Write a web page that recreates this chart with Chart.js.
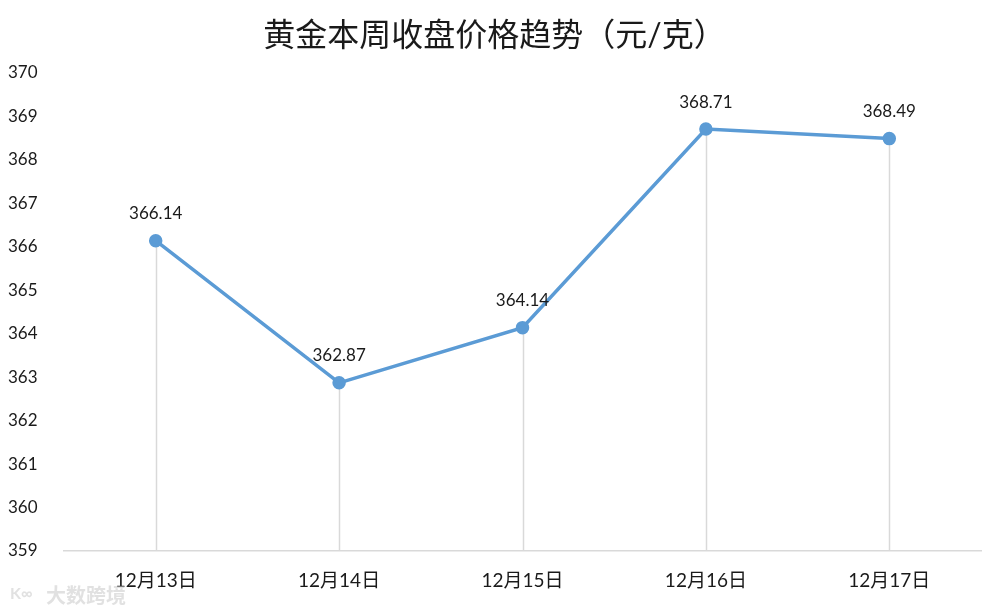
<!DOCTYPE html>
<html>
<head>
<meta charset="utf-8">
<script src="https://cdn.jsdelivr.net/npm/chart.js@4"></script>
<style>
  html, body { margin: 0; padding: 0; background: #fff; }
  #wrap { width: 1005px; height: 613px; position: relative; }
</style>
</head>
<body>
<div id="wrap"><canvas id="chart"></canvas></div>
<script>
// data
const days = ['12月13日', '12月14日', '12月15日', '12月16日', '12月17日'];
const closePrices = [366.14, 362.87, 364.14, 368.71, 368.49];
const yMin = 359;
const yMax = 370;

const FONT = "Lato, 'Noto Sans CJK SC', sans-serif";

// vertical drop lines from each point to the x axis
const dropLines = {
    id: 'dropLines',
    beforeDatasetsDraw(chart) {
        const ctx = chart.ctx;
        const meta = chart.getDatasetMeta(0);
        const bottom = chart.chartArea.bottom;
        ctx.save();
        ctx.strokeStyle = '#d9d9d9';
        ctx.lineWidth = 1.5;
        meta.data.forEach(pt => {
            ctx.beginPath();
            ctx.moveTo(Math.round(pt.x) + 0.5, pt.y);
            ctx.lineTo(Math.round(pt.x) + 0.5, bottom);
            ctx.stroke();
        });
        ctx.restore();
    }
};

// value labels above the points + watermark
const valueLabels = {
    id: 'valueLabels',
    afterDatasetsDraw(chart) {
        const ctx = chart.ctx;
        const meta = chart.getDatasetMeta(0);
        ctx.save();
        ctx.font = '17px ' + FONT;
        ctx.fillStyle = '#1a1a1a';
        ctx.textAlign = 'center';
        ctx.textBaseline = 'middle';
        meta.data.forEach((pt, i) => {
            ctx.fillText(closePrices[i].toFixed(2), pt.x, pt.y - 27);
        });
        // watermark
        ctx.font = 'bold 20px ' + FONT;
        ctx.textAlign = 'left';
        ctx.fillStyle = 'rgba(200,200,200,0.55)';
        ctx.fillText('大数跨境', 46, 597);
        ctx.font = 'bold 16px ' + FONT;
        ctx.fillText('K∞', 10, 594);
        ctx.restore();
    }
};

const ctx = document.getElementById('chart').getContext('2d');
new Chart(ctx, {
    type: 'line',
    data: {
        labels: days,
        datasets: [{
            data: closePrices,
            borderColor: '#5b9bd5',
            backgroundColor: '#5b9bd5',
            borderWidth: 3.5,
            pointRadius: 5,
            pointHoverRadius: 5,
            pointBackgroundColor: '#5b9bd5',
            pointBorderColor: '#5b9bd5',
            tension: 0
        }]
    },
    options: {
        responsive: true,
        maintainAspectRatio: false,
        animation: false,
        layout: { padding: { left: 8, right: 24, top: 0, bottom: 24 } },
        plugins: {
            legend: { display: false },
            tooltip: { enabled: false },
            title: {
                display: true,
                text: '黄金本周收盘价格趋势（元/克）',
                color: '#1a1a1a',
                font: { family: FONT, size: 32, weight: 'normal', lineHeight: 1.2 },
                padding: { top: 16, bottom: 18.6 }
            }
        },
        scales: {
            x: {
                offset: true,
                grid: { display: false, drawTicks: false },
                border: { display: true, color: '#d9d9d9', width: 1.5 },
                ticks: {
                    color: '#1a1a1a',
                    padding: 18,
                    maxRotation: 0,
                    font: { family: FONT, size: 19 }
                },
                afterFit(scale) { scale.height = 38; }
            },
            y: {
                min: yMin,
                max: yMax,
                grid: { display: false, drawTicks: false },
                border: { display: false },
                ticks: {
                    stepSize: 1,
                    color: '#1a1a1a',
                    crossAlign: 'far',
                    padding: 0,
                    font: { family: FONT, size: 17 }
                },
                afterFit(scale) { scale.width = 56; }
            }
        }
    },
    plugins: [dropLines, valueLabels]
});
</script>
</body>
</html>
